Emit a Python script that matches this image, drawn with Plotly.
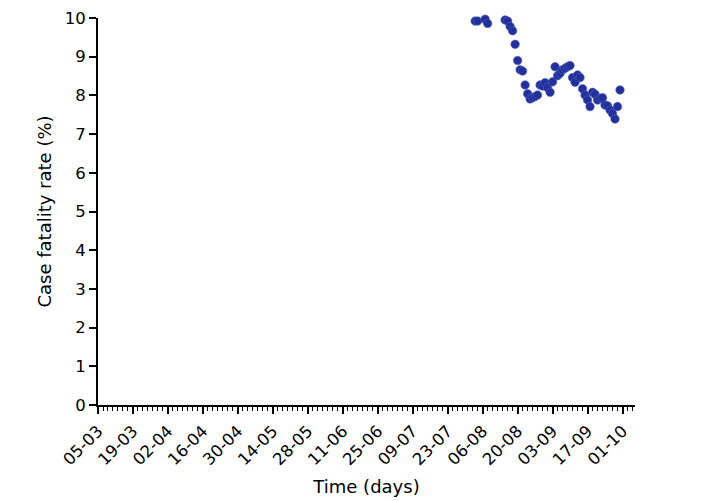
import datetime as dt
import plotly.graph_objects as go

# ---- data ----
start_date = "2020-03-05"
early_dates = ["2020-08-03", "2020-08-04", "2020-08-07", "2020-08-08"]
early_cfr = [9.92, 9.92, 9.97, 9.86]

daily_start = "2020-08-15"
daily_cfr = [9.95, 9.92, 9.78, 9.67, 9.32, 8.90, 8.66, 8.63, 8.27, 8.04,
             7.91, 7.94, 7.97, 8.01, 8.27, 8.24, 8.33, 8.20, 8.08, 8.35,
             8.74, 8.51, 8.57, 8.66, 8.70, 8.74, 8.77, 8.46, 8.34, 8.53,
             8.46, 8.17, 8.01, 7.88, 7.71, 8.08, 8.03, 7.88, 7.92, 7.94,
             7.75, 7.73, 7.62, 7.53, 7.39, 7.71, 8.14]

y_ticks = [0, 1, 2, 3, 4, 5, 6, 7, 8, 9, 10]
x_title = "Time (days)"
y_title = "Case fatality rate (%)"

d0 = dt.date.fromisoformat(daily_start)
daily_dates = [(d0 + dt.timedelta(days=i)).isoformat() for i in range(len(daily_cfr))]
dates = early_dates + daily_dates
cfr = early_cfr + daily_cfr

DAY = 86400000
font = "DejaVu Sans, sans-serif"

fig = go.Figure(go.Scatter(
    x=dates, y=cfr, mode="markers",
    marker=dict(color="#24309a", size=8.5, line=dict(width=0.6, color="#4a5fc0")),
    cliponaxis=False, showlegend=False,
))

# the page body adds an 8px offset; margins compensate for it
fig.update_layout(
    width=709, height=501,
    margin=dict(l=90, r=82, t=10, b=104),
    paper_bgcolor="white", plot_bgcolor="white",
    font=dict(family=font, size=16, color="black"),
)

fig.update_xaxes(
    type="date", automargin=False,
    range=["2020-03-05", "2020-10-06"],
    tick0=start_date, dtick=14 * DAY, tickformat="%d-%m",
    tickangle=-45, ticks="outside", ticklen=7, tickwidth=1.6, tickcolor="black",
    showline=True, linecolor="black", linewidth=1.8,
    showgrid=False, zeroline=False,
    minor=dict(tick0=start_date, dtick=2 * DAY, ticks="outside", ticklen=4,
               tickwidth=1.3, tickcolor="black", showgrid=False),
    title=dict(text=x_title, font=dict(size=18), standoff=12),
    tickfont=dict(size=16.5),
    ticklabelstandoff=1,
)

fig.update_yaxes(
    automargin=False,
    range=[0, 10], tickvals=y_ticks,
    ticks="outside", ticklen=7, tickwidth=1.6, tickcolor="black",
    showline=True, linecolor="black", linewidth=1.8,
    showgrid=False, zeroline=False,
    title=dict(text=y_title, font=dict(size=18), standoff=8),
    tickfont=dict(size=16.5),
    ticklabeloverflow="allow",
)

fig.write_html("out.html")
